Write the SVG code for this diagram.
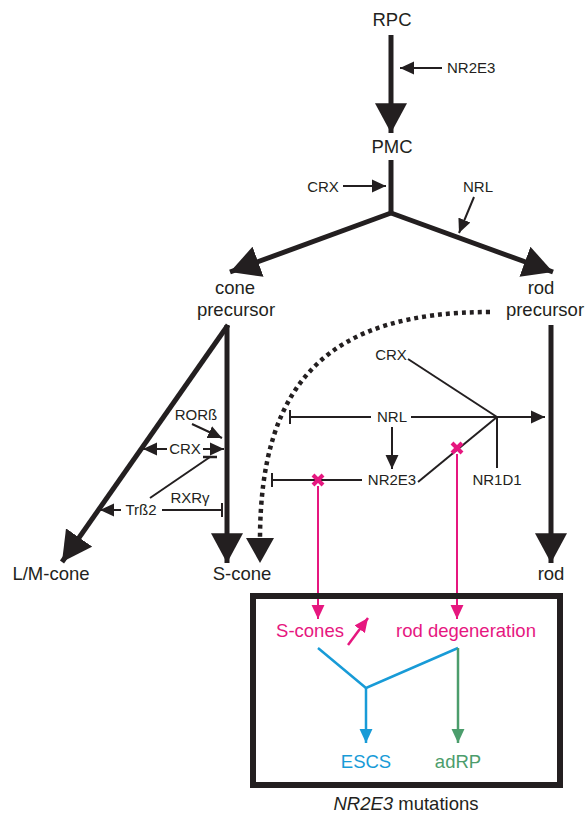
<svg xmlns="http://www.w3.org/2000/svg" width="586" height="815" viewBox="0 0 586 815">
<defs>
<style>
text{font-family:"Liberation Sans",Arial,sans-serif;fill:#231f20;text-anchor:middle}
.L{font-size:18.5px}
.S{font-size:15px}
.thick{stroke:#231f20;stroke-width:5;fill:none}
.thin{stroke:#231f20;stroke-width:2;fill:none}
.mag{stroke:#e6177f;stroke-width:2;fill:none}
.blue{stroke:#189bd7;stroke-width:2.5;fill:none}
.green{stroke:#4c9d6c;stroke-width:2.5;fill:none}
.x{stroke:#e6177f;stroke-width:4}
</style>
<marker id="big" markerUnits="userSpaceOnUse" markerWidth="30" markerHeight="32" viewBox="0 0 28 30" refX="28" refY="15" orient="auto"><path d="M0,0 L28,15 L0,30 z" fill="#231f20"/></marker>
<marker id="sm" markerUnits="userSpaceOnUse" markerWidth="14" markerHeight="14" viewBox="0 0 13 12" refX="13" refY="6" orient="auto"><path d="M0,0 L13,6 L0,12 z" fill="#231f20"/></marker>
<marker id="bar" markerUnits="userSpaceOnUse" markerWidth="3" markerHeight="14" viewBox="0 0 2 14" refX="1" refY="7" orient="auto"><rect width="2" height="14" fill="#231f20"/></marker>
<marker id="magA" markerUnits="userSpaceOnUse" markerWidth="14" markerHeight="14" viewBox="0 0 13 12" refX="13" refY="6" orient="auto"><path d="M0,0 L13,6 L0,12 z" fill="#e6177f"/></marker>
<marker id="blueA" markerUnits="userSpaceOnUse" markerWidth="14" markerHeight="14" viewBox="0 0 13 12" refX="13" refY="6" orient="auto"><path d="M0,0 L13,6 L0,12 z" fill="#189bd7"/></marker>
<marker id="greenA" markerUnits="userSpaceOnUse" markerWidth="14" markerHeight="14" viewBox="0 0 13 12" refX="13" refY="6" orient="auto"><path d="M0,0 L13,6 L0,12 z" fill="#4c9d6c"/></marker>
</defs>
<rect width="586" height="815" fill="#ffffff"/>

<g id="connectors">
<line class="thick" x1="391" y1="35" x2="391" y2="133" marker-end="url(#big)"/>
<path class="thick" d="M391,160 L391,213"/>
<line class="thick" x1="391" y1="213" x2="230" y2="272" marker-end="url(#big)"/>
<line class="thick" x1="391" y1="213" x2="553" y2="272" marker-end="url(#big)"/>
<line class="thin" x1="442" y1="68" x2="400" y2="68" marker-end="url(#sm)"/>
<line class="thin" x1="343" y1="186" x2="386" y2="186" marker-end="url(#sm)"/>
<line class="thin" x1="474" y1="197" x2="459" y2="233" marker-end="url(#sm)"/>

<line class="thick" x1="227" y1="325" x2="227" y2="563" marker-end="url(#big)"/>
<line class="thick" x1="228" y1="325" x2="62" y2="562" marker-end="url(#big)"/>
<line class="thick" x1="551" y1="325" x2="551" y2="563" marker-end="url(#big)"/>
<path d="M490,312 C330,312 260,380 260,540" stroke="#231f20" stroke-width="4.5" fill="none" stroke-dasharray="4 4"/>
<path d="M246,538 L274,538 L260,563 z" fill="#231f20"/>

<line class="thin" x1="192" y1="424" x2="222" y2="438" marker-end="url(#sm)"/>
<line class="thin" x1="167" y1="449" x2="143" y2="449" marker-end="url(#sm)"/>
<line class="thin" x1="203" y1="449" x2="224" y2="449" marker-end="url(#sm)"/>
<line class="thin" x1="150" y1="498" x2="210" y2="457"/>
<line stroke="#231f20" stroke-width="2.5" x1="203" y1="457" x2="217" y2="457"/>
<line class="thin" x1="121" y1="510" x2="100" y2="510" marker-end="url(#sm)"/>
<line class="thin" x1="162" y1="510" x2="222" y2="510" marker-end="url(#bar)"/>

<line class="thin" x1="408" y1="359" x2="497" y2="417"/>
<line class="thin" x1="371" y1="417" x2="290" y2="417" marker-end="url(#bar)"/>
<line class="thin" x1="411" y1="417" x2="545" y2="417" marker-end="url(#sm)"/>
<line class="thin" x1="392" y1="427" x2="392" y2="469" marker-end="url(#sm)"/>
<line class="thin" x1="362" y1="480" x2="272" y2="480" marker-end="url(#bar)"/>
<line class="thin" x1="418" y1="482" x2="497" y2="417"/>
<line class="thin" x1="497" y1="417" x2="497" y2="468"/>

<line class="mag" x1="318" y1="486" x2="318" y2="619" marker-end="url(#magA)"/>
<line class="mag" x1="457" y1="454" x2="457" y2="619" marker-end="url(#magA)"/>
<g class="x"><line x1="313" y1="475" x2="323" y2="485"/><line x1="323" y1="475" x2="313" y2="485"/></g>
<g class="x"><line x1="452" y1="443" x2="462" y2="453"/><line x1="462" y1="443" x2="452" y2="453"/></g>
<line stroke="#e6177f" stroke-width="2.5" x1="348" y1="645" x2="368" y2="618" marker-end="url(#magA)"/>

<path class="blue" d="M318,648 L366,688 L458,648"/>
<line class="blue" x1="366" y1="688" x2="366" y2="743" marker-end="url(#blueA)"/>
<line class="green" x1="458" y1="648" x2="458" y2="743" marker-end="url(#greenA)"/>
</g>

<g id="RPC"><text class="L" x="392" y="26">RPC</text></g>
<g id="PMC"><text class="L" x="392" y="153">PMC</text></g>
<g id="NR2E3-top"><text class="S" x="447" y="73" style="text-anchor:start">NR2E3</text></g>
<g id="CRX-top"><text class="S" x="323" y="192">CRX</text></g>
<g id="NRL-top"><text class="S" x="478" y="192">NRL</text></g>
<g id="cone-precursor"><text class="L" x="235" y="294">cone</text><text class="L" x="236" y="316">precursor</text></g>
<g id="rod-precursor"><text class="L" x="541" y="294">rod</text><text class="L" x="545" y="316">precursor</text></g>
<g id="LM-cone"><text class="L" x="51" y="580">L/M-cone</text></g>
<g id="S-cone"><text class="L" x="242" y="580">S-cone</text></g>
<g id="rod"><text class="L" x="551" y="580">rod</text></g>
<g id="RORb"><text class="S" x="196" y="420">RORß</text></g>
<g id="CRX-cone"><text class="S" x="185" y="454">CRX</text></g>
<g id="RXRg"><text class="S" x="190" y="503">RXRγ</text></g>
<g id="Trb2"><text class="S" x="141" y="515">Trß2</text></g>
<g id="CRX-rod"><text class="S" x="391" y="360">CRX</text></g>
<g id="NRL-rod"><text class="S" x="392" y="422">NRL</text></g>
<g id="NR2E3"><text class="S" x="392" y="485">NR2E3</text></g>
<g id="NR1D1"><text class="S" x="497" y="485">NR1D1</text></g>

<g id="mutations-box">
<rect x="253" y="596" width="307" height="189" fill="none" stroke="#231f20" stroke-width="6"/>
<text class="L" x="310" y="637" style="fill:#e6177f">S-cones</text>
<text class="L" x="466" y="637" style="fill:#e6177f">rod degeneration</text>
<text class="L" x="366" y="768" style="fill:#189bd7">ESCS</text>
<text class="L" x="458" y="768" style="fill:#4c9d6c">adRP</text>
<text class="L" x="406" y="810"><tspan font-style="italic">NR2E3</tspan> mutations</text>
</g>
</svg>
